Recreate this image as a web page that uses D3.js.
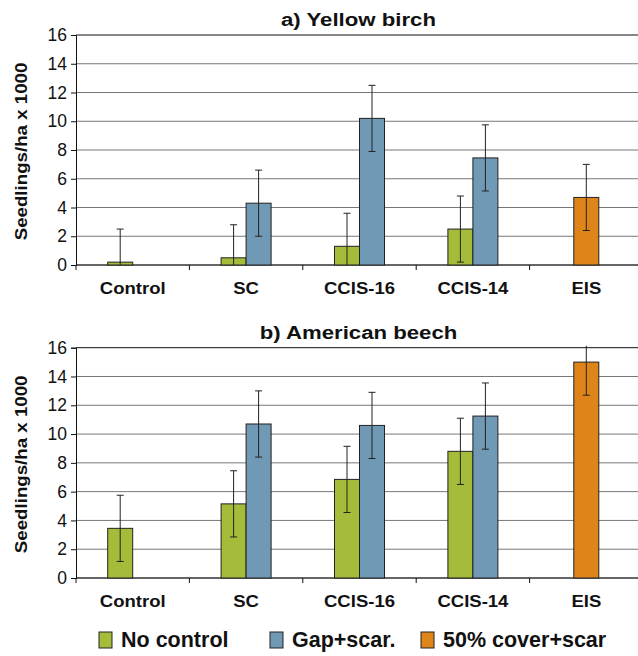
<!DOCTYPE html>
<html>
  <head>
    <title>Seedlings</title>
    <script src="https://cdn.jsdelivr.net/npm/d3@7/dist/d3.min.js"></script>
    <style>
      body { margin: 0; background: #fff; }
      text { font-family: 'Liberation Sans', Arial, sans-serif; fill: #111; }
    </style>
  </head>
  <body>
    <svg width="638" height="656" id="mainsvg"></svg>
    <script>
        // categories / series
        const categories = ['Control', 'SC', 'CCIS-16', 'CCIS-14', 'EIS'];
        const seriesNames = ['No control', 'Gap+scar.', '50% cover+scar'];
        const yTicks = [0, 2, 4, 6, 8, 10, 12, 14, 16];

        // a) Yellow birch
        const birchNoControl = [0.2, 0.5, 1.3, 2.5, null];
        const birchGap = [null, 4.3, 10.2, 7.45, null];
        const birchCover = [null, null, null, null, 4.7];
        const birchErr = [2.3, 2.3, 2.3];

        // b) American beech
        const beechNoControl = [3.45, 5.15, 6.85, 8.8, null];
        const beechGap = [null, 10.7, 10.6, 11.25, null];
        const beechCover = [null, null, null, null, 15.0];
        const beechErr = [2.3, 2.3, 2.3];

        const colors = ['#a4bc3a', '#7099b5', '#df8419'];
        const barOffset = [-1, 0, -0.5]; // in bar widths, from category centre
        const barW = 25;

        const svg = d3.select('#mainsvg');
        const margin = {left: 76, right: -5};
        const width = +svg.attr('width');
        const innerWidth = width - margin.left - margin.right;

        const xScale = d3.scaleBand().domain(categories).range([0, innerWidth]).padding(0);

        // text with a horizontal stretch (the source font is wider than Liberation Sans)
        function stretchText(sel, str, x, y, size, sx, rot) {
          return sel.append('text').text(str)
            .attr('transform', `translate(${x}, ${y})${rot ? ` rotate(${rot})` : ''} scale(${sx}, 1)`)
            .attr('text-anchor', 'middle')
            .attr('font-size', size + 'px').attr('font-weight', 'bold');
        }

        function panel(id, title, top, bottom, seriesVals, errs) {
          const innerHeight = bottom - top;
          const g = svg.append('g').attr('id', id)
            .attr('transform', `translate(${margin.left}, ${top})`);
          const yScale = d3.scaleLinear().domain([0, 16]).range([innerHeight, 0]);

          // clip for error bars
          g.append('clipPath').attr('id', id + 'clip')
            .append('rect').attr('x', -10).attr('y', -2)
            .attr('width', innerWidth + 20).attr('height', innerHeight + 2);

          // gridlines
          g.append('g').selectAll('line').data(yTicks).join('line')
            .attr('x1', 0).attr('x2', innerWidth)
            .attr('y1', d => yScale(d)).attr('y2', d => yScale(d))
            .attr('stroke', d => d === 16 ? '#111' : '#777').attr('stroke-width', 1);

          // y axis
          const yAxis = d3.axisLeft(yScale).tickValues(yTicks).tickSize(5).tickPadding(4);
          const ya = g.append('g').call(yAxis);
          ya.select('.domain').attr('stroke', '#111');
          ya.selectAll('.tick line').attr('stroke', '#111');
          ya.selectAll('.tick text').attr('font-size', '17.5px')
            .attr('font-family', "'Liberation Sans', Arial, sans-serif").attr('fill', '#111');

          // x axis: baseline + boundary ticks
          g.append('line').attr('x1', 0).attr('x2', innerWidth)
            .attr('y1', innerHeight).attr('y2', innerHeight).attr('stroke', '#111');
          g.append('g').selectAll('line').data(categories).join('line')
            .attr('x1', d => xScale(d)).attr('x2', d => xScale(d))
            .attr('y1', innerHeight).attr('y2', innerHeight + 5)
            .attr('stroke', '#111');
          const xl = g.append('g');
          categories.forEach(c => {
            stretchText(xl, c, xScale(c) + xScale.bandwidth() / 2, innerHeight + 28.5, 17, 1.09);
          });

          // bars + error bars
          seriesVals.forEach((vals, s) => {
            const pts = categories.map((c, i) => ({c, v: vals[i]})).filter(d => d.v != null);
            const cx = d => xScale(d.c) + xScale.bandwidth() / 2 + barOffset[s] * barW;
            g.append('g').selectAll('rect').data(pts).join('rect')
              .attr('x', cx).attr('width', barW)
              .attr('y', d => yScale(d.v)).attr('height', d => innerHeight - yScale(d.v))
              .attr('fill', colors[s]).attr('stroke', '#222').attr('stroke-width', 1);
            const eg = g.append('g').attr('clip-path', `url(#${id}clip)`);
            const e = errs[s];
            pts.forEach(d => {
              const x = cx(d) + barW / 2;
              eg.append('line').attr('x1', x).attr('x2', x)
                .attr('y1', yScale(d.v + e)).attr('y2', yScale(d.v - e))
                .attr('stroke', '#222');
              [d.v + e, d.v - e].forEach(t => {
                eg.append('line').attr('x1', x - 3.5).attr('x2', x + 3.5)
                  .attr('y1', yScale(t)).attr('y2', yScale(t)).attr('stroke', '#222');
              });
            });
          });

          // title
          stretchText(g, title, 282.5, -9, 18.5, 1.2);

          // y label
          stretchText(g, 'Seedlings/ha x 1000', -49, innerHeight / 2 + 1.5, 17, 1.1, -90);
        }

        panel('pa', 'a) Yellow birch', 35, 265, [birchNoControl, birchGap, birchCover], birchErr);
        panel('pb', 'b) American beech', 347.7, 578, [beechNoControl, beechGap, beechCover], beechErr);

        // legend
        const legendX = [99, 270, 421];
        const leg = svg.append('g');
        seriesNames.forEach((n, i) => {
          leg.append('rect').attr('x', legendX[i]).attr('y', 632)
            .attr('width', 13).attr('height', 16)
            .attr('fill', colors[i]).attr('stroke', '#222');
          leg.append('text').text(n)
            .attr('x', legendX[i] + 22).attr('y', 647)
            .attr('font-size', '21.5px').attr('font-weight', 'bold');
        });
    </script>
  </body>
</html>
